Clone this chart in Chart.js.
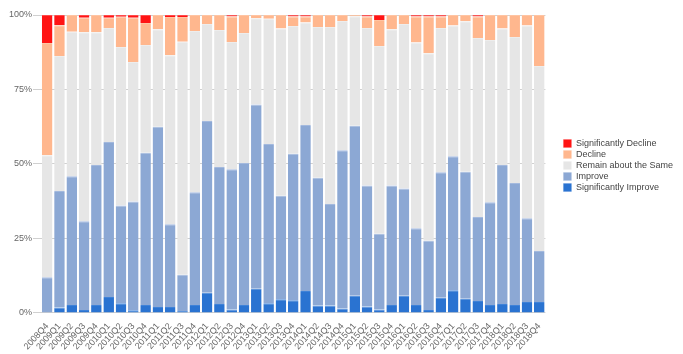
<!DOCTYPE html>
<html>
<head>
<meta charset="utf-8">
<script src="https://cdn.jsdelivr.net/npm/chart.js@4/dist/chart.umd.min.js"></script>
<style>
  html, body { margin: 0; padding: 0; background: #fff; }
  #wrap { width: 683px; height: 354px; }
</style>
</head>
<body>
<div id="wrap"><canvas id="chart"></canvas></div>
<script>
// quarters
var quarters = ['2008Q4',
    '2009Q1', '2009Q2', '2009Q3', '2009Q4',
    '2010Q1', '2010Q2', '2010Q3', '2010Q4',
    '2011Q1', '2011Q2', '2011Q3', '2011Q4',
    '2012Q1', '2012Q2', '2012Q3', '2012Q4',
    '2013Q1', '2013Q2', '2013Q3', '2013Q4',
    '2014Q1', '2014Q2', '2014Q3', '2014Q4',
    '2015Q1', '2015Q2', '2015Q3', '2015Q4',
    '2016Q1', '2016Q2', '2016Q3', '2016Q4',
    '2017Q1', '2017Q2', '2017Q3', '2017Q4',
    '2018Q1', '2018Q2', '2018Q3', '2018Q4'];

// share of answers in percent
var sigImprove = [0, 1.8, 2.7, 1.0, 2.7, 5.4, 3.3, 0.9, 2.7, 2.0, 2.0, 0.7, 2.7, 6.8, 3.0, 1.2, 2.7,
    8.1, 3.3, 4.6, 4.3, 7.4, 2.5, 2.5, 1.5, 5.8, 2.2, 1.2, 2.7, 5.8, 2.7, 1.0, 5.1,
    7.6, 4.8, 4.0, 2.7, 3.0, 2.7, 3.7, 3.7];
var improve = [12.0, 39.1, 43.2, 29.8, 47.0, 52.0, 32.8, 36.5, 51.1, 60.5, 27.8, 12.1, 37.8, 57.6, 46.0, 47.0, 47.6,
    61.9, 53.4, 34.7, 49.1, 55.7, 42.9, 34.1, 53.1, 57.0, 40.6, 25.4, 40.1, 36.0, 25.7, 23.2, 42.1,
    45.0, 42.6, 28.2, 34.5, 46.7, 40.9, 28.1, 17.1];
var remainSame = [40.9, 45.3, 48.5, 63.4, 44.5, 38.2, 53.2, 46.8, 36.1, 32.7, 56.7, 78.2, 54.1, 32.6, 46.0, 42.7, 43.7,
    28.9, 42.0, 56.2, 42.9, 34.4, 50.6, 59.4, 43.4, 36.8, 52.8, 63.0, 52.4, 55.2, 62.4, 63.0, 48.4,
    43.9, 50.5, 60.1, 54.4, 45.8, 49.0, 64.7, 62.1];
var decline = [37.7, 10.4, 5.6, 4.9, 5.8, 3.5, 10.1, 14.9, 7.4, 4.8, 12.8, 8.3, 5.4, 3.0, 5.0, 8.6, 6.0,
    1.1, 1.3, 4.5, 3.2, 2.0, 4.0, 4.0, 2.0, 0.4, 3.9, 8.7, 4.8, 3.0, 8.7, 12.3, 3.9,
    3.5, 2.1, 7.2, 8.4, 4.5, 7.4, 3.5, 17.1];
var sigDecline = [9.4, 3.4, 0, 0.9, 0, 0.9, 0.6, 0.9, 2.7, 0, 0.7, 0.7, 0, 0, 0, 0.5, 0,
    0, 0, 0, 0.5, 0.5, 0, 0, 0, 0, 0.5, 1.7, 0, 0, 0.5, 0.5, 0.5,
    0, 0, 0.5, 0, 0, 0, 0, 0];

var yTicks = [0, 25, 50, 75, 100];

function series(label, data, color, edge) {
    return {
        label: label,
        data: data,
        backgroundColor: color,
        borderColor: edge,
        borderWidth: { top: 1, left: 0, right: 0, bottom: 0 },
        borderSkipped: false,
        categoryPercentage: 1,
        barPercentage: 0.86
    };
}

// leave a gap between the bars and the legend, and lift the legend a bit
var legendGap = 16, legendLift = 18;
var legendShift = {
    id: 'legendShift',
    afterInit: function(chart) {
        var fit = chart.legend.fit;
        chart.legend.fit = function() {
            fit.call(this);
            this.width += legendGap;
        };
    },
    afterLayout: function(chart) {
        var lg = chart.legend;
        lg.left += legendGap;
        lg.right += legendGap;
        lg.top -= legendLift;
        lg.bottom -= legendLift;
    }
};

Chart.defaults.font.family = '"Liberation Sans", Arial, sans-serif';
Chart.defaults.font.size = 9;
Chart.defaults.color = '#666';

new Chart(document.getElementById('chart'), {
    type: 'bar',
    data: {
        labels: quarters,
        datasets: [
            series('Significantly Improve', sigImprove, '#2a73d1', '#3f82d8'),
            series('Improve', improve, '#8ca8d4', '#a3b9de'),
            series('Remain about the Same', remainSame, '#e6e6e6', '#ededed'),
            series('Decline', decline, '#ffb78e', '#ffc4a2'),
            series('Significantly Decline', sigDecline, '#ff1414', '#ff4a4a')
        ]
    },
    plugins: [legendShift],
    options: {
        responsive: true,
        maintainAspectRatio: false,
        animation: false,
        layout: { padding: { top: 15, right: 0, bottom: 2, left: 8 } },
        plugins: {
            tooltip: { enabled: false },
            legend: {
                position: 'right',
                reverse: true,
                labels: {
                    boxWidth: 8,
                    boxHeight: 8,
                    padding: 2,
                    color: '#444',
                    font: { size: 9 }
                }
            }
        },
        scales: {
            x: {
                stacked: true,
                grid: { display: false },
                border: { display: false },
                ticks: { minRotation: 48, maxRotation: 48, autoSkip: false, padding: 0 }
            },
            y: {
                stacked: true,
                min: 0,
                max: 100,
                afterBuildTicks: function(axis) {
                    axis.ticks = yTicks.map(function(v) { return { value: v }; });
                },
                grid: { color: '#d0d0d0', tickLength: 8 },
                border: { display: false },
                ticks: {
                    padding: 1,
                    callback: function(v) { return v + '%'; }
                }
            }
        }
    }
});
</script>
</body>
</html>
